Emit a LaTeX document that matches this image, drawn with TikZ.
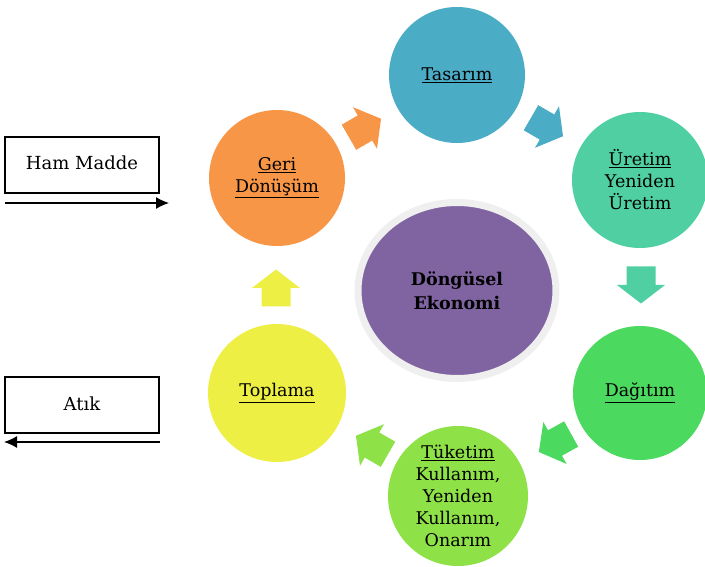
\documentclass[tikz,border=0pt]{standalone}
\usepackage{fontspec}
\setmainfont{DejaVu Serif}
\usetikzlibrary{arrows.meta,shapes.geometric}

\definecolor{cTasarim}{HTML}{4BACC6}
\definecolor{cUretim}{HTML}{4FCFA2}
\definecolor{cDagitim}{HTML}{4BD95F}
\definecolor{cTuketim}{HTML}{8EE248}
\definecolor{cToplama}{HTML}{EDEF44}
\definecolor{cGeri}{HTML}{F79646}
\definecolor{cMerkez}{HTML}{8064A2}
\definecolor{cHalka}{HTML}{EFEFEF}

\tikzset{
  stage/.style={circle, inner sep=0pt, align=center, font=\fontsize{17.5}{22}\selectfont},
  sidebox/.style={draw=black, line width=1.3pt, minimum width=154pt, minimum height=56pt,
    inner sep=0pt, font=\fontsize{18}{22}\selectfont},
  flow/.style={line width=1.3pt, -{Latex[length=13pt,width=12pt]}},
  blockarrow/.pic={\fill[#1] (-18.5,-14.5) -- (0,-14.5) -- (0,-24) -- (18.5,0)
    -- (0,24) -- (0,14.5) -- (-18.5,14.5) -- cycle;}
}
\newcommand{\ul}[1]{\underline{#1}}

\begin{document}
\begin{tikzpicture}[x=1pt,y=1pt]
\useasboundingbox (0,0) rectangle (705,566);

% centre
\node[ellipse, draw=cHalka, line width=7pt, fill=cMerkez, minimum width=198pt,
  minimum height=176pt, align=center, font=\fontsize{17.5}{24}\selectfont\bfseries]
  (merkez) at (457,275.5) {Döngüsel\\Ekonomi};

% cycle stages
\node[stage, fill=cTasarim, minimum size=136pt] (tasarim) at (457,491) {\ul{Tasarım}};
\node[stage, fill=cUretim, minimum size=136pt] (uretim) at (640,386)
  {\ul{Üretim}\\Yeniden\\Üretim};
\node[stage, fill=cDagitim, minimum size=134pt] (dagitim) at (640,173) {\ul{Dağıtım}};
\node[stage, fill=cTuketim, minimum size=140pt] (tuketim) at (458,70)
  {\ul{Tüketim}\\Kullanım,\\Yeniden\\Kullanım,\\Onarım};
\node[stage, fill=cToplama, minimum size=138pt] (toplama) at (277,173) {\ul{Toplama}};
\node[stage, fill=cGeri, minimum size=136pt] (geri) at (277,388)
  {\ul{Geri}\\\ul{Dönüşüm}};

% block arrows between stages
\pic[rotate=30]  at (365,438) {blockarrow=cGeri};
\pic[rotate=-30] at (547,439) {blockarrow=cTasarim};
\pic[rotate=-90] at (641,281) {blockarrow=cUretim};
\pic[rotate=-151] at (555,123) {blockarrow=cDagitim};
\pic[rotate=150] at (372,121) {blockarrow=cTuketim};
\pic[rotate=90]  at (276,278) {blockarrow=cToplama};

% inputs and outputs
\node[sidebox] (ham) at (82,401) {\raisebox{4pt}{Ham Madde}};
\node[sidebox] (atik) at (82,161) {\raisebox{3pt}{Atık}};
\coordinate (hamA) at (5,363);
\coordinate (hamB) at (169,363);
\coordinate (atikA) at (160,124);
\coordinate (atikB) at (4,124);
\draw[flow] (hamA) -- (hamB);
\draw[flow] (atikA) -- (atikB);
\end{tikzpicture}
\end{document}
